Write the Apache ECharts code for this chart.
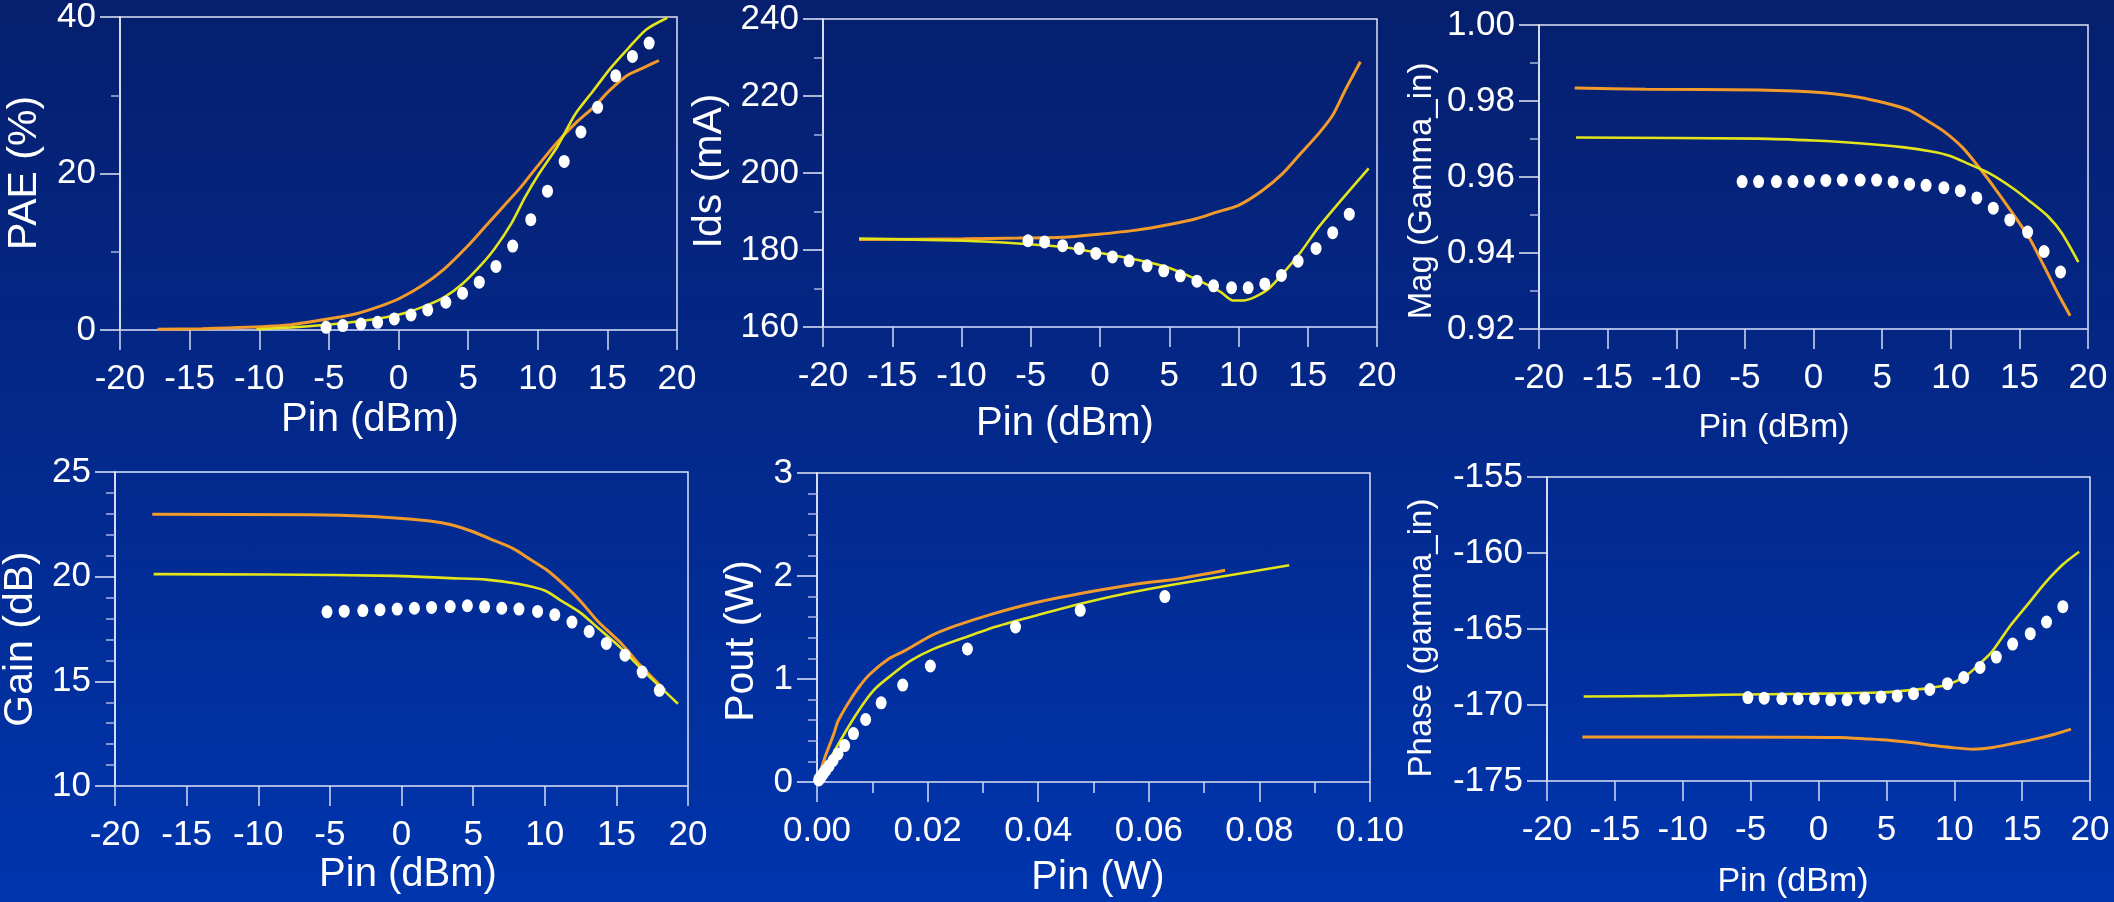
<!DOCTYPE html>
<html>
<head>
<meta charset="utf-8">
<script src="https://cdn.jsdelivr.net/npm/echarts@6/dist/echarts.min.js"></script>
<style>
html,body{margin:0;padding:0;}
#c{width:2114px;height:902px;background:linear-gradient(180deg,#061f6e 0%,#03298c 50%,#0035ae 100%);}
</style>
</head>
<body>
<div id="c"></div>
<script>
// ---------------- DATA ----------------
// measured points (white dots), Pin in dBm
const pinDots = [-5.2,-4.0,-2.7,-1.5,-0.3,0.9,2.1,3.4,4.6,5.8,7.0,8.2,9.5,10.7,11.9,13.1,14.3,15.6,16.8,18.0];
// measured Pin in W (for Pout panel)
const pinWDots = [0.0003,0.0004,0.0005,0.0007,0.0009,0.0012,0.0016,0.0022,0.0029,0.0038,0.0050,0.0066,0.0088,0.0116,0.0155,0.0205,0.0272,0.0359,0.0476,0.0629];

// PAE (%)
const paeDots = [0.34,0.56,0.77,0.98,1.41,1.92,2.56,3.55,4.70,6.11,8.12,10.73,14.10,17.74,21.54,25.30,28.46,32.48,34.96,36.67];
const paeOrangeX = [-17.3,-14.1,-10.9,-7.7,-5.1,-3.1,-1.2,0.1,1.7,3.3,4.9,6.2,7.5,8.8,10.1,11.4,12.7,14.0,15.2,16.5,17.8,18.7];
const paeOrangeY = [0.09,0.17,0.34,0.68,1.41,2.05,3.12,4.06,5.68,7.82,10.6,13.16,15.73,18.29,21.2,24.0,26.41,28.46,30.68,32.61,33.68,34.44];
const paeYellowX = [-10.2,-7.7,-5.1,-2.8,-0.9,0.4,2.0,3.3,4.6,5.9,6.9,8.1,9.1,10.1,11.4,12.7,14.0,15.2,16.5,17.8,19.3];
const paeYellowY = [0.09,0.34,0.68,1.11,1.62,2.14,3.12,4.19,5.9,8.25,10.38,13.59,17.0,20.0,23.42,27.6,30.6,33.4,36.0,38.4,39.9];

// Ids (mA)
const idsDots = [182.4,182.1,181.1,180.4,179.1,178.2,177.2,175.9,174.6,173.3,171.9,170.7,170.2,170.2,171.2,173.4,177.1,180.4,184.5,189.3];
const idsOrangeX = [-17.4,-9.8,-5.9,-2.7,-0.1,2.5,5.1,7.0,8.3,10.0,11.7,13.2,14.5,15.8,16.8,17.7,18.8];
const idsOrangeY = [182.7,182.9,183.1,183.3,184.1,185.1,186.7,188.2,189.7,191.6,195.4,199.9,205.1,210.3,215.0,221.5,228.9];
const idsYellowX = [-17.4,-9.8,-5.9,-2.7,-0.1,2.2,4.8,7.0,8.7,9.6,10.4,12.1,13.4,14.5,15.8,17.4,19.4];
const idsYellowY = [183.0,182.4,181.7,180.8,179.3,177.8,175.6,172.3,169.1,166.9,166.9,169.7,174.7,179.5,186.0,192.9,201.2];

// Mag (Gamma_in)
const magDots = [0.9588,0.9588,0.9588,0.9588,0.9589,0.9591,0.9592,0.9592,0.9592,0.9587,0.9581,0.9578,0.9572,0.9564,0.9545,0.9518,0.9487,0.9455,0.9404,0.9350];
const magOrangeX = [-17.4,-12.2,-4.0,0.7,3.3,5.3,6.9,8.2,9.5,10.9,12.2,13.2,14.5,15.8,16.8,17.8,18.7];
const magOrangeY = [0.9834,0.9831,0.9829,0.9822,0.9810,0.9794,0.9777,0.9750,0.9720,0.9676,0.9619,0.9571,0.9505,0.9435,0.9365,0.9294,0.9235];
const magYellowX = [-17.3,-4.0,0.0,3.3,6.6,8.6,9.9,11.2,12.8,14.5,15.8,17.1,18.1,19.3];
const magYellowY = [0.9704,0.9701,0.9696,0.9689,0.9678,0.9667,0.9656,0.9636,0.9610,0.9571,0.9535,0.9496,0.9452,0.9376];

// Gain (dB)
const gainDots = [18.32,18.35,18.38,18.42,18.45,18.49,18.53,18.57,18.61,18.56,18.49,18.45,18.34,18.18,17.83,17.38,16.81,16.25,15.44,14.57];
const gainOrangeX = [-17.4,-6.4,-2.0,0.2,2.1,3.4,4.9,6.5,7.8,9.0,10.1,11.2,12.5,13.7,15.3,16.5,18.4];
const gainOrangeY = [22.98,22.96,22.88,22.77,22.65,22.49,22.17,21.72,21.34,20.82,20.34,19.70,18.83,17.87,16.84,15.89,14.57];
const gainYellowX = [-17.3,-9.2,-0.4,3.4,5.9,8.1,10.0,11.2,12.5,13.7,15.3,16.9,19.3];
const gainYellowY = [20.12,20.10,20.04,19.93,19.86,19.66,19.34,18.83,18.27,17.56,16.60,15.49,13.93];

// Pout (W) vs Pin (W)
const poutDots = [0.020,0.027,0.037,0.049,0.065,0.087,0.115,0.157,0.209,0.273,0.354,0.470,0.607,0.769,0.941,1.126,1.291,1.505,1.667,1.800];
const poutOrangeX = [0.0002,0.0014,0.0030,0.0038,0.0055,0.0075,0.0095,0.0128,0.0160,0.0205,0.0250,0.0315,0.0396,0.0486,0.0575,0.0649,0.0738];
const poutOrangeY = [0.023,0.234,0.461,0.590,0.753,0.915,1.044,1.190,1.278,1.417,1.515,1.628,1.742,1.839,1.920,1.969,2.056];
const poutYellowX = [0.0002,0.0018,0.0038,0.0063,0.0087,0.0107,0.0136,0.0168,0.0209,0.0266,0.0323,0.0404,0.0486,0.0567,0.0648,0.0730,0.0854];
const poutYellowY = [0.006,0.169,0.363,0.590,0.785,0.915,1.044,1.174,1.288,1.401,1.508,1.628,1.742,1.839,1.920,1.992,2.105];

// Phase (gamma_in)
const phaseDots = [-169.51,-169.55,-169.59,-169.59,-169.59,-169.66,-169.66,-169.55,-169.48,-169.40,-169.26,-168.98,-168.60,-168.19,-167.53,-166.85,-165.99,-165.31,-164.54,-163.53];
const phaseYellowX = [-17.3,-11.3,-7.0,-0.5,4.5,6.2,8.1,9.5,10.8,11.8,12.8,14.1,15.4,16.7,18.0,19.2];
const phaseYellowY = [-169.44,-169.40,-169.33,-169.26,-169.18,-169.07,-168.89,-168.67,-168.12,-167.35,-166.47,-164.82,-163.40,-161.97,-160.76,-159.92];
const phaseOrangeX = [-17.4,-1.8,1.5,3.5,5.2,6.8,8.5,9.8,11.4,12.8,14.4,16.0,17.4,18.6];
const phaseOrangeY = [-172.10,-172.12,-172.14,-172.23,-172.32,-172.47,-172.67,-172.80,-172.91,-172.80,-172.52,-172.23,-171.92,-171.59];

// axis ranges [min, max, interval]
const dbmRange = [-20, 20, 5];
const wRange = [0, 0.1, 0.02];
const paeRange = [0, 40, 20];
const idsRange = [160, 240, 20];
const magRange = [0.92, 1.00, 0.02];
const gainRange = [10, 25, 5];
const poutRange = [0, 3, 1];
const phaseRange = [-175, -155, 5];

// ---------------- CHART ----------------
const FONT = "'Liberation Sans', Arial, Helvetica, sans-serif";
const ORANGE = '#f29a2a';
const YELLOW = '#e4e41a';
const pts = (xs, ys) => xs.map((x, i) => [x, ys[i]]);

const grids = [
  {left:120, top:17, width:557, height:313},
  {left:823, top:19, width:554, height:308},
  {left:1539, top:25, width:549, height:304},
  {left:115, top:472, width:573, height:314},
  {left:817, top:473, width:553, height:309},
  {left:1547, top:477, width:543, height:304}
].map(g => Object.assign({show:true, borderColor:'#dde3f5', borderWidth:1.5, backgroundColor:'transparent', containLabel:false, outerBoundsMode:'none'}, g));

function xAx(i, r, opts) {
  return Object.assign({
    gridIndex:i, type:'value', min:r[0], max:r[1], interval:r[2],
    axisLine:{show:true, onZero:false, lineStyle:{color:'#a8b5e4', width:1.5}},
    axisTick:{show:true, inside:false, length:20, lineStyle:{color:'#d4dbf2', width:1.5}},
    axisLabel:{color:'#ffffff', fontSize:35, fontFamily:FONT, margin:32, showMinLabel:true, showMaxLabel:true},
    splitLine:{show:false}
  }, opts || {});
}
function yAx(i, r, minorSplit, fmt) {
  return {
    gridIndex:i, type:'value', min:r[0], max:r[1], interval:r[2],
    axisLine:{show:true, onZero:false, lineStyle:{color:'#e4e9f8', width:1.5}},
    axisTick:{show:true, inside:false, length:20, lineStyle:{color:'#e4e9f8', width:1.5}},
    minorTick:{show: minorSplit > 0, splitNumber: minorSplit || 1, length:9, lineStyle:{color:'#a8b5e4', width:1.5}},
    axisLabel:{color:'#ffffff', fontSize:35, fontFamily:FONT, margin:24, padding:[10,0,0,0], formatter: fmt, showMinLabel:true, showMaxLabel:true},
    splitLine:{show:false}
  };
}

function lineS(i, data, color, w) {
  return {type:'line', xAxisIndex:i, yAxisIndex:i, data:data, showSymbol:false, symbol:'none',
    smooth:0.25, lineStyle:{color:color, width:w, opacity:1}, z:2, silent:true};
}
function dotS(i, data) {
  return {type:'scatter', xAxisIndex:i, yAxisIndex:i, data:data, symbol:'circle', symbolSize:[11,13],
    itemStyle:{color:'#ffffff', opacity:1}, z:5, silent:true};
}

const f2 = v => v.toFixed(2);

const xAxes = [
  xAx(0, dbmRange), xAx(1, dbmRange), xAx(2, dbmRange), xAx(3, dbmRange),
  xAx(4, wRange, {minorTick:{show:true, splitNumber:2, length:11, lineStyle:{color:'#d4dbf2', width:1.5}}, axisLabel:{color:'#ffffff', fontSize:35, fontFamily:FONT, margin:32, formatter:f2, showMinLabel:true, showMaxLabel:true}}),
  xAx(5, dbmRange)
];
const yAxes = [
  yAx(0, paeRange, 2), yAx(1, idsRange, 2), yAx(2, magRange, 2, f2),
  yAx(3, gainRange, 5), yAx(4, poutRange, 5), yAx(5, phaseRange, 0)
];

const series = [
  lineS(0, pts(paeOrangeX, paeOrangeY), ORANGE, 3),
  lineS(0, pts(paeYellowX, paeYellowY), YELLOW, 2.6),
  dotS(0, pts(pinDots, paeDots)),
  lineS(1, pts(idsOrangeX, idsOrangeY), ORANGE, 3),
  lineS(1, pts(idsYellowX, idsYellowY), YELLOW, 2.6),
  dotS(1, pts(pinDots, idsDots)),
  lineS(2, pts(magOrangeX, magOrangeY), ORANGE, 3),
  lineS(2, pts(magYellowX, magYellowY), YELLOW, 2.6),
  dotS(2, pts(pinDots, magDots)),
  lineS(3, pts(gainOrangeX, gainOrangeY), ORANGE, 3),
  lineS(3, pts(gainYellowX, gainYellowY), YELLOW, 2.6),
  dotS(3, pts(pinDots, gainDots)),
  lineS(4, pts(poutOrangeX, poutOrangeY), ORANGE, 3),
  lineS(4, pts(poutYellowX, poutYellowY), YELLOW, 2.6),
  dotS(4, pts(pinWDots, poutDots)),
  lineS(5, pts(phaseOrangeX, phaseOrangeY), ORANGE, 3),
  lineS(5, pts(phaseYellowX, phaseYellowY), YELLOW, 2.6),
  dotS(5, pts(pinDots, phaseDots))
];

function title(text, x, y, size, rot) {
  return {type:'text', x:x, y:y, rotation: rot ? Math.PI/2 : 0, silent:true, z:10,
    style:{text:text, fill:'#ffffff', fontSize:size, fontFamily:FONT, align:'center', verticalAlign:'middle'}};
}
const graphics = [
  title('PAE (%)', 25, 173, 41, true),
  title('Ids (mA)', 710, 171, 41, true),
  title('Mag (Gamma_in)', 1422, 191, 33, true),
  title('Gain (dB)', 21, 639, 41, true),
  title('Pout (W)', 742, 641, 41, true),
  title('Phase (gamma_in)', 1422, 638, 33, true),
  title('Pin (dBm)', 370, 420, 40, false),
  title('Pin (dBm)', 1065, 424, 40, false),
  title('Pin (dBm)', 1774, 428, 34, false),
  title('Pin (dBm)', 408, 875, 40, false),
  title('Pin (W)', 1098, 878, 40, false),
  title('Pin (dBm)', 1793, 882, 34, false)
];

const chart = echarts.init(document.getElementById('c'), null, {renderer:'canvas', width:2114, height:902});
chart.setOption({
  backgroundColor:'transparent',
  animation:false,
  grid:grids,
  xAxis:xAxes,
  yAxis:yAxes,
  series:series,
  graphic:graphics
});
</script>
</body>
</html>
